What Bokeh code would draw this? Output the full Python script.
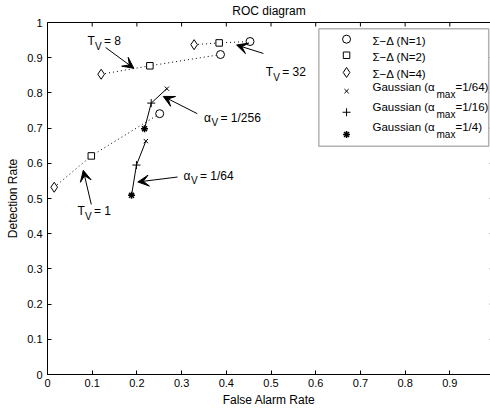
import math
from bokeh.plotting import figure
from bokeh.models import Range1d, FixedTicker, LinearAxis, Arrow, VeeHead, BoxAnnotation
from bokeh.core.properties import value
from bokeh.embed import file_html
from bokeh.resources import INLINE

# ---------------- data ----------------
# Sigma-Delta detectors, one point per T_V value (T_V = 1, 8, 32)
tv_labels = ["1", "8", "32"]
sd1_far = [0.251, 0.387, 0.453]
sd1_det = [0.741, 0.909, 0.946]
sd2_far = [0.098, 0.229, 0.384]
sd2_det = [0.621, 0.877, 0.942]
sd4_far = [0.015, 0.120, 0.328]
sd4_det = [0.532, 0.853, 0.937]

# Gaussian detectors, one point per alpha_V value (1/64, 1/256)
av_labels = ["1/64", "1/256"]
g64_far = [0.220, 0.267]
g64_det = [0.663, 0.812]
g16_far = [0.199, 0.232]
g16_det = [0.595, 0.771]
g4_far = [0.188, 0.217]
g4_det = [0.509, 0.698]

x_ticks = [0, 0.1, 0.2, 0.3, 0.4, 0.5, 0.6, 0.7, 0.8, 0.9]
x_tick_labels = ["0", "0.1", "0.2", "0.3", "0.4", "0.5", "0.6", "0.7", "0.8", "0.9"]
y_ticks = [0, 0.1, 0.2, 0.3, 0.4, 0.5, 0.6, 0.7, 0.8, 0.9, 1]
y_tick_labels = ["0", "0.1", "0.2", "0.3", "0.4", "0.5", "0.6", "0.7", "0.8", "0.9", "1"]
x_axis_end = 1.0

sd_legend = ["\u03a3\u2212\u0394 (N=1)", "\u03a3\u2212\u0394 (N=2)", "\u03a3\u2212\u0394 (N=4)"]
g_legend_tail = ["=1/64)", "=1/16)", "=1/4)"]

FONT = "Liberation Sans"

p = figure(width=490, height=409,
           x_range=Range1d(0, 0.991), y_range=Range1d(0, 1),
           output_backend="svg", toolbar_location=None,
           min_border_left=47, min_border_right=0, min_border_top=0, min_border_bottom=34,
           title="ROC diagram",
           x_axis_label="False Alarm Rate", y_axis_label="Detection Rate")
p.outline_line_color = None
p.xgrid.visible = False
p.ygrid.visible = False
p.background_fill_color = "white"
p.border_fill_color = "white"

p.title.text_font = FONT
p.title.text_font_size = "12px"
p.title.text_font_style = "normal"
p.title.text_color = "black"
p.title.align = "center"
p.title.vertical_align = "top"
p.title.standoff = 6

def style_axis(ax, ticks, labels):
    ax.ticker = FixedTicker(ticks=ticks)
    ax.major_label_overrides = {t: l for t, l in zip(ticks, labels)}
    ax.minor_tick_line_color = None
    ax.major_tick_in = 4
    ax.major_tick_out = 0
    ax.major_tick_line_color = "black"
    ax.axis_line_color = "black"
    ax.axis_line_width = 1
    ax.major_label_text_font = FONT
    ax.major_label_text_font_size = "11px"
    ax.major_label_text_color = "black"
    ax.axis_label_text_font = FONT
    ax.axis_label_text_font_size = "12px"
    ax.axis_label_text_font_style = "normal"
    ax.axis_label_text_color = "black"

xa = p.xaxis[0]
style_axis(xa, x_ticks, x_tick_labels)
xa.major_label_standoff = 4
xa.axis_label_standoff = 3

ya = p.yaxis[0]
style_axis(ya, y_ticks, y_tick_labels)
ya.major_label_standoff = 5
ya.axis_label_standoff = 4

# top border line (ticks drawn below as inward dashes)
top = LinearAxis(ticker=FixedTicker(ticks=[]), axis_line_color="black", axis_line_width=1,
                 major_tick_line_color=None, minor_tick_line_color=None)
p.add_layout(top, "above")

# inward ticks on the top edge and on the (cut-off) right edge at x = 1
p.scatter(x_ticks, [y_ticks[-1]] * len(x_ticks), marker="dash", size=8,
          angle=math.pi / 2, line_color="black", line_width=1)
p.scatter([x_axis_end] * len(y_ticks), y_ticks, marker="dash", size=10,
          line_color="#777777", line_width=1)

# ---------------- lines ----------------
for i in range(len(tv_labels)):
    p.line([sd4_far[i], sd2_far[i], sd1_far[i]], [sd4_det[i], sd2_det[i], sd1_det[i]],
           line_color="black", line_width=1, line_dash="1 3")
for i in range(len(av_labels)):
    p.line([g4_far[i], g16_far[i], g64_far[i]], [g4_det[i], g16_det[i], g64_det[i]],
           line_color="black", line_width=1)

# ---------------- markers ----------------
mk = dict(line_color="black", fill_color="white", line_width=1)
p.scatter(sd1_far, sd1_det, marker="circle", size=8, **mk)
p.scatter(sd2_far, sd2_det, marker="square", size=6.5, **mk)
p.scatter(sd4_far, sd4_det, marker="diamond", size=10, **mk)
p.scatter(g64_far, g64_det, marker="x", size=6, **mk)
p.scatter(g16_far, g16_det, marker="cross", size=8, **mk)
p.scatter(g4_far, g4_det, marker="asterisk", size=7, line_color="black", line_width=1.5)

# ---------------- annotations ----------------
def sub_label(x, y, main, sub, rest, dx_sub=7.5, dx_rest=16.5):
    kw = dict(text_font=value(FONT), text_color="black", text_baseline="middle", text_align="left")
    p.text([x], [y], text=[main], text_font_size="12px", **kw)
    p.text([x], [y], text=[sub], text_font_size="10px", x_offset=dx_sub, y_offset=5, **kw)
    p.text([x], [y], text=[rest], text_font_size="12px", x_offset=dx_rest, **kw)

def arrow(x0, y0, x1, y1):
    p.add_layout(Arrow(end=VeeHead(size=11, fill_color="black", line_color="black", line_width=1),
                       x_start=x0, y_start=y0, x_end=x1, y_end=y1,
                       line_color="black", line_width=1))

sub_label(0.067, 0.464, "T", "V", "= " + tv_labels[0])
arrow(0.098, 0.483, 0.080, 0.580)
sub_label(0.0894, 0.947, "T", "V", "= " + tv_labels[1])
arrow(0.130, 0.929, 0.193, 0.870)
sub_label(0.488, 0.859, "T", "V", "= " + tv_labels[2])
arrow(0.483, 0.912, 0.423, 0.936)
sub_label(0.304, 0.565, "\u03b1", "V", "= " + av_labels[0])
arrow(0.291, 0.561, 0.202, 0.547)
sub_label(0.350, 0.729, "\u03b1", "V", "= " + av_labels[1])
arrow(0.335, 0.741, 0.259, 0.790)

# ---------------- legend ----------------
p.add_layout(BoxAnnotation(left=0.607, right=0.987, bottom=0.6486, top=0.982,
                           fill_color="white", fill_alpha=1, line_color="black",
                           line_width=1.5, level="underlay"))
lx_mark = 0.669
lx_text = 0.727
mark_y = [0.9526, 0.907, 0.858, 0.805, 0.745, 0.682]
text_y = [0.948, 0.9026, 0.855, 0.817, 0.759, 0.704]
p.scatter([lx_mark], [mark_y[0]], marker="circle", size=8, **mk)
p.scatter([lx_mark], [mark_y[1]], marker="square", size=6.5, **mk)
p.scatter([lx_mark], [mark_y[2]], marker="diamond", size=10, **mk)
p.scatter([lx_mark], [mark_y[3]], marker="x", size=6, **mk)
p.scatter([lx_mark], [mark_y[4]], marker="cross", size=8, **mk)
p.scatter([lx_mark], [mark_y[5]], marker="asterisk", size=7, line_color="black", line_width=1.5)

lkw = dict(text_font=value(FONT), text_color="black", text_baseline="middle", text_align="left")
p.text([lx_text] * 3, text_y[:3], text=sd_legend, text_font_size="11.5px", **lkw)
p.text([lx_text] * 3, text_y[3:], text=["Gaussian (\u03b1"] * 3, text_font_size="11.5px", **lkw)
p.text([lx_text] * 3, text_y[3:], text=["max"] * 3, text_font_size="10px", x_offset=64, y_offset=7.5, **lkw)
p.text([lx_text] * 3, text_y[3:], text=g_legend_tail, text_font_size="11.5px", x_offset=83, **lkw)

open("out.html", "w").write(file_html(p, INLINE))
